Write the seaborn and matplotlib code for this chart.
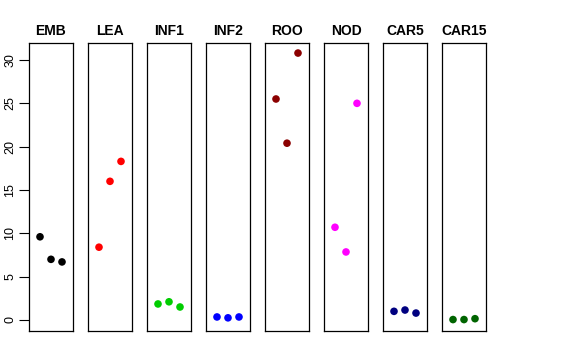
import pandas as pd
import matplotlib
matplotlib.use("Agg")
import matplotlib.pyplot as plt
import seaborn as sns

sns.set_style("white")
plt.rcParams["font.family"] = ["Liberation Sans", "DejaVu Sans"]
plt.rcParams["text.color"] = "black"
plt.rcParams["ytick.color"] = "black"
plt.rcParams["ytick.labelcolor"] = "black"

# tissues and the three replicate values per tissue
tissues = ["EMB", "LEA", "INF1", "INF2", "ROO", "NOD", "CAR5", "CAR15"]
values = [
    [9.6, 7.0, 6.7],
    [8.4, 16.0, 18.3],
    [1.85, 2.1, 1.5],
    [0.35, 0.25, 0.35],
    [25.5, 20.4, 30.8],
    [10.7, 7.85, 25.0],
    [1.0, 1.15, 0.8],
    [0.05, 0.05, 0.15],
]
colors = ["#000000", "#FF0000", "#00CD00", "#0000FF",
          "#8B0000", "#FF00FF", "#000080", "#006400"]
yticks = [0, 5, 10, 15, 20, 25, 30]

rows = []
for t, vals in zip(tissues, values):
    for i, v in enumerate(vals):
        rows.append({"tissue": t, "rep": i + 1, "value": v})
df = pd.DataFrame(rows)

fig = plt.figure(figsize=(5.76, 3.6), dpi=100)
W, H = 576, 360
for k, (t, c) in enumerate(zip(tissues, colors)):
    left = 29 + 59 * k
    ax = fig.add_axes([left / W, (H - 331) / H, 44 / W, 288 / H])
    sub = df[df["tissue"] == t]
    sns.scatterplot(data=sub, x="rep", y="value", color=c, s=30,
                    edgecolor="none", ax=ax)
    ax.set_xlim(0, 4)
    ax.set_ylim(-1.27, 31.96)
    ax.set_xticks([])
    ax.set_xlabel("")
    ax.set_ylabel("")
    ax.set_title(t, fontweight="bold", fontsize=10, pad=6, color="black")
    for s in ax.spines.values():
        s.set_color("black")
        s.set_linewidth(0.9)
        s.set_visible(True)
    if k == 0:
        ax.set_yticks(yticks)
        ax.set_yticklabels([str(v) for v in yticks], rotation=90, va="center",
                           fontsize=9, color="black")
        ax.tick_params(axis="y", left=True, direction="out", length=7,
                       width=0.8, pad=2, color="black")
    else:
        ax.set_yticks([])

fig.savefig("out.png", dpi=100)
